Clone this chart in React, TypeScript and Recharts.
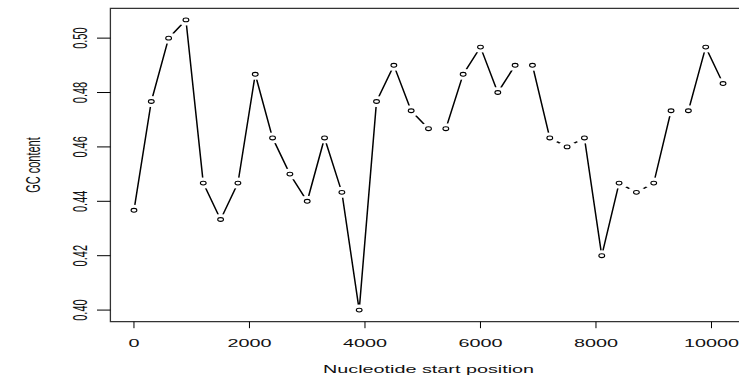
import React from "react";
import { LineChart, Line, XAxis, YAxis, ReferenceArea } from "recharts";

const positions = [
  0, 300, 600, 900, 1200, 1500, 1800, 2100, 2400, 2700, 3000, 3300, 3600, 3900, 4200, 4500, 4800,
  5100, 5400, 5700, 6000, 6300, 6600, 6900, 7200, 7500, 7800, 8100, 8400, 8700, 9000, 9300, 9600,
  9900, 10200,
];
const gcContent = [
  0.4367, 0.4767, 0.5, 0.5067, 0.4467, 0.4333, 0.4467, 0.4867, 0.4633, 0.45, 0.44, 0.4633, 0.4433,
  0.4, 0.4767, 0.49, 0.4733, 0.4667, 0.4667, 0.4867, 0.4967, 0.48, 0.49, 0.49, 0.4633, 0.46, 0.4633,
  0.42, 0.4467, 0.4433, 0.4467, 0.4733, 0.4733, 0.4967, 0.4833,
];
const xTicks = [0, 2000, 4000, 6000, 8000, 10000];
const yTicks = [0.4, 0.42, 0.44, 0.46, 0.48, 0.5];
const xDomain: [number, number] = [-408, 10608];
const yDomain: [number, number] = [0.39573, 0.51093];

const data = positions.map((p, i) => ({ pos: p, gc: gcContent[i] }));

const FONT = "'Liberation Sans', Arial, sans-serif";
const SX = 1.8;

const XTick = (props: any) => {
  const { x, payload } = props;
  return (
    <text
      transform={`translate(${x},347) scale(${SX},1)`}
      textAnchor="middle"
      fontFamily={FONT}
      fontSize={11}
      fill="#111"
    >
      {String(payload.value)}
    </text>
  );
};

const YTick = (props: any) => {
  const { y, payload } = props;
  return (
    <text
      transform={`translate(87,${y}) scale(${SX},1) rotate(-90)`}
      textAnchor="middle"
      fontFamily={FONT}
      fontSize={11}
      fill="#111"
    >
      {Number(payload.value).toFixed(2)}
    </text>
  );
};

const GapDot = (props: any) => {
  const { cx, cy, index } = props;
  if (cx == null || cy == null) return <g key={`g${index}`} />;
  return <ellipse key={`g${index}`} cx={cx} cy={cy} rx={10} ry={5.5} fill="#fff" />;
};

const CircleDot = (props: any) => {
  const { cx, cy, index } = props;
  if (cx == null || cy == null) return <g key={`c${index}`} />;
  return (
    <ellipse
      key={`c${index}`}
      cx={cx}
      cy={cy}
      rx={2.9}
      ry={1.9}
      fill="#fff"
      stroke="#000"
      strokeWidth={1.1}
    />
  );
};

export default function App() {
  return (
    <div
      style={{
        position: "absolute",
        left: 0,
        top: 0,
        width: 739,
        height: 377,
        overflow: "hidden",
        background: "#fff",
      }}
    >
      <LineChart
        width={760}
        height={377}
        data={data}
        margin={{ top: 8.4, right: 13.4, bottom: 0, left: 0 }}
      >
        <XAxis
          dataKey="pos"
          type="number"
          domain={xDomain}
          ticks={xTicks}
          allowDataOverflow
          axisLine={false}
          tickLine={{ stroke: "#000" }}
          tickSize={6.5}
          height={55.3}
          tick={<XTick />}
          interval={0}
        />
        <YAxis
          type="number"
          domain={yDomain}
          ticks={yTicks}
          allowDataOverflow
          axisLine={false}
          tickLine={{ stroke: "#000" }}
          tickSize={13.4}
          width={110.4}
          tick={<YTick />}
          interval={0}
        />
        <ReferenceArea
          x1={xDomain[0]}
          x2={xDomain[1]}
          y1={yDomain[0]}
          y2={yDomain[1]}
          fill="none"
          fillOpacity={0}
          stroke="#333"
          strokeWidth={1.3}
          ifOverflow="visible"
        />
        <Line
          dataKey="gc"
          stroke="#000"
          strokeWidth={1.5}
          dot={<GapDot />}
          activeDot={false}
          isAnimationActive={false}
        />
        <Line
          dataKey="gc"
          stroke="none"
          dot={<CircleDot />}
          activeDot={false}
          isAnimationActive={false}
        />
        <text
          transform={`translate(428.5,373.3) scale(${SX},1)`}
          textAnchor="middle"
          fontFamily={FONT}
          fontSize={11}
          fill="#111"
        >
          Nucleotide start position
        </text>
        <text
          transform={`translate(40,165) scale(${SX},1) rotate(-90)`}
          textAnchor="middle"
          fontFamily={FONT}
          fontSize={11}
          fill="#111"
        >
          GC content
        </text>
      </LineChart>
    </div>
  );
}
